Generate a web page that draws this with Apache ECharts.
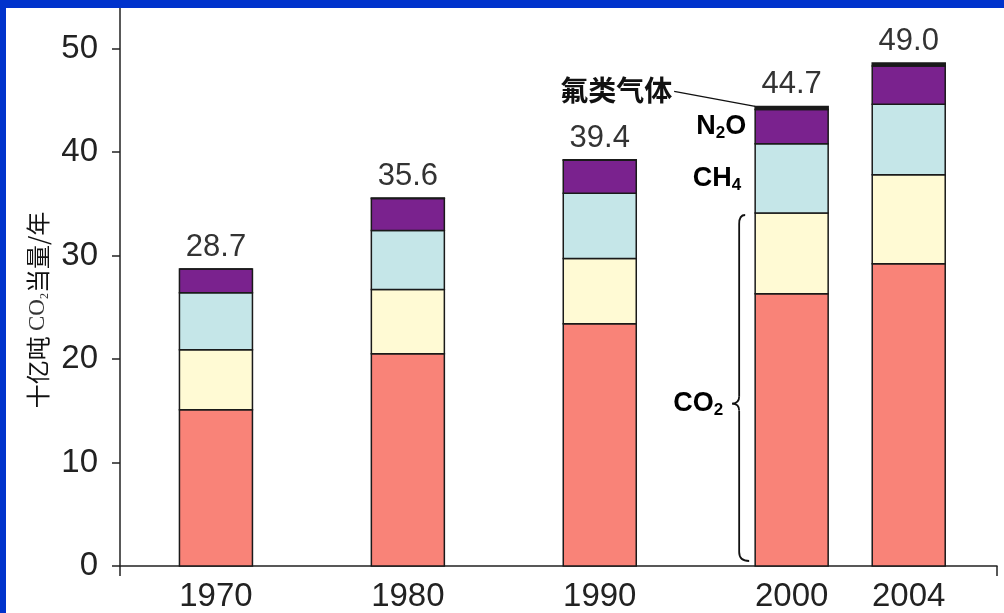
<!DOCTYPE html>
<html><head><meta charset="utf-8">
<script src="https://cdn.jsdelivr.net/npm/echarts@6/dist/echarts.min.js"></script>
<style>html,body{margin:0;padding:0;background:#fff;}#c{width:1004px;height:613px;}</style>
</head><body><div id="c"></div>
<script>
const years = ['1970', '1980', '1990', '2000', '2004'];
const slots = [1, 2, 3, 4, 4.61];
const co2Fossil = [15.1, 20.5, 23.4, 26.3, 29.2];
const co2Other = [5.8, 6.2, 6.3, 7.8, 8.6];
const ch4 = [5.5, 5.7, 6.3, 6.7, 6.8];
const n2o = [2.3, 3.1, 3.2, 3.3, 3.7];
const fgas = [0, 0.05, 0.05, 0.3, 0.3];
const totals = ['28.7', '35.6', '39.4', '44.7', '49.0'];
const yTicks = [0, 10, 20, 30, 40, 50];
const annotIndex = 3;

const FONT = "'Liberation Sans', Arial, Helvetica, sans-serif";
const CJK = "'Noto Sans CJK SC', sans-serif";
const AX = '#222';
const BAR_W = 73;

const layers = [
  { name: 'CO2', vals: co2Fossil, color: '#F98378' },
  { name: 'CO2其他', vals: co2Other, color: '#FFFAD4' },
  { name: 'CH4', vals: ch4, color: '#C5E6E8' },
  { name: 'N2O', vals: n2o, color: '#7A228E' },
  { name: '氟类气体', vals: fgas, color: '#1a1a1a' }
];
// cumulative bottoms/tops per layer
const cum = years.map(() => 0);
const stacked = layers.map(L => L.vals.map((v, i) => { const b = cum[i]; cum[i] += v; return [slots[i], b, cum[i], i]; }));

function mkSeries(L, k) {
  const isTop = k === layers.length - 1;
  return {
    name: L.name, type: 'custom',
    encode: { x: 0, y: [1, 2] },
    data: stacked[k],
    renderItem: function (params, api) {
      const x = api.value(0), y0 = api.value(1), y1 = api.value(2), idx = api.value(3);
      const p0 = api.coord([x, y0]), p1 = api.coord([x, y1]);
      const children = [{
        type: 'rect',
        shape: { x: p0[0] - BAR_W / 2, y: p1[1], width: BAR_W, height: p0[1] - p1[1] },
        style: { fill: L.color, stroke: '#1a1a1a', lineWidth: 1.5 }
      }];
      if (isTop) {
        children.push({
          type: 'text', x: p1[0], y: p1[1] - 6,
          style: { text: totals[idx], align: 'center', verticalAlign: 'bottom', fontSize: 31, fill: '#333', fontFamily: FONT }
        });
      }
      return { type: 'group', children: children };
    }
  };
}

const chart = echarts.init(document.getElementById('c'), null, { renderer: 'canvas' });
chart.setOption({
  animation: false,
  backgroundColor: '#ffffff',
  grid: { left: 120, right: 7, top: 7, bottom: 47 },
  xAxis: {
    type: 'value', min: 0.5, max: 5.07,
    axisLine: { show: true, lineStyle: { color: AX, width: 1.5 } },
    axisTick: { show: true, length: 10, customValues: [0.5, 5.07], lineStyle: { color: AX, width: 1.5 } },
    axisLabel: { customValues: slots, formatter: v => years[slots.indexOf(v)] || '', fontSize: 33, color: AX, fontFamily: FONT, margin: 14 },
    splitLine: { show: false }
  },
  yAxis: {
    type: 'value', min: 0, max: 54,
    axisLine: { show: true, lineStyle: { color: AX, width: 1.5 } },
    axisTick: { show: true, length: 8, customValues: yTicks, lineStyle: { color: AX, width: 1.5 } },
    axisLabel: { customValues: yTicks, fontSize: 33, color: AX, fontFamily: FONT, margin: 22 },
    splitLine: { show: false }
  },
  series: layers.map(mkSeries)
});

// annotations anchored to the 2000 bar via the chart's scales
const i = annotIndex;
const px = v => chart.convertToPixel({ gridIndex: 0 }, [slots[i], v]);
const base = px(0);
const barLeft = base[0] - BAR_W / 2;
const cTop = co2Fossil[i] + co2Other[i];
const chTop = cTop + ch4[i];
const nTop = chTop + n2o[i];
const fTop = nTop + fgas[i];
const yN = px(chTop + n2o[i] / 2)[1];
const yC = px(cTop + ch4[i] / 2)[1];
const yTop = px(fTop)[1];
const braceTop = px(cTop)[1] + 2;
const braceBot = base[1] - 5;
const tip = px(cTop * 0.46)[1];
const bx = barLeft - 16;

const lblRich = {
  m: { fontSize: 27, fontWeight: 'bold', fontFamily: FONT, color: '#111', lineHeight: 30 },
  s: { fontSize: 17, fontWeight: 'bold', fontFamily: FONT, color: '#111', verticalAlign: 'bottom', lineHeight: 17 }
};
const ln = { stroke: '#111', lineWidth: 1.8, fill: null };

chart.setOption({
  graphic: [
    { type: 'rect', z: 100, shape: { x: 0, y: 0, width: 1004, height: 8 }, style: { fill: '#0033CC' } },
    { type: 'rect', z: 100, shape: { x: 0, y: 0, width: 6, height: 613 }, style: { fill: '#0033CC' } },
    { type: 'text', x: 38, y: 310, rotation: Math.PI / 2,
      style: {
        text: '{a|十亿吨 }{b|CO}{c|2}{a|当量/年}', align: 'center', verticalAlign: 'middle',
        rich: {
          a: { fontSize: 24, fontFamily: CJK, fill: '#111', lineHeight: 26 },
          b: { fontSize: 23, fontFamily: "'Liberation Serif', serif", fill: '#333', lineHeight: 26 },
          c: { fontSize: 12, fontFamily: "'Liberation Serif', serif", fill: '#333', verticalAlign: 'bottom', lineHeight: 12 }
        }
      } },
    { type: 'text', x: barLeft - 9, y: yN, style: { text: '{m|N}{s|2}{m|O}', align: 'right', verticalAlign: 'middle', rich: lblRich } },
    { type: 'text', x: barLeft - 14, y: yC, style: { text: '{m|CH}{s|4}', align: 'right', verticalAlign: 'middle', rich: lblRich } },
    { type: 'text', x: bx - 16, y: tip, style: { text: '{m|CO}{s|2}', align: 'right', verticalAlign: 'middle', rich: lblRich } },
    { type: 'text', x: barLeft - 83, y: yTop - 16, style: { text: '氟类气体', align: 'right', verticalAlign: 'middle', fontSize: 28, fontWeight: 'bold', fontFamily: CJK, fill: '#111' } },
    { type: 'line', shape: { x1: barLeft - 81, y1: yTop - 15, x2: barLeft, y2: yTop }, style: { stroke: '#111', lineWidth: 1.5 } },
    { type: 'bezierCurve', shape: { x1: bx + 6, y1: braceTop, cpx1: bx, cpy1: braceTop, x2: bx, y2: braceTop + 9 }, style: ln },
    { type: 'line', shape: { x1: bx, y1: braceTop + 9, x2: bx, y2: tip - 7 }, style: ln },
    { type: 'bezierCurve', shape: { x1: bx, y1: tip - 7, cpx1: bx, cpy1: tip, x2: bx - 7, y2: tip }, style: ln },
    { type: 'bezierCurve', shape: { x1: bx - 7, y1: tip, cpx1: bx, cpy1: tip, x2: bx, y2: tip + 7 }, style: ln },
    { type: 'line', shape: { x1: bx, y1: tip + 7, x2: bx, y2: braceBot - 9 }, style: ln },
    { type: 'bezierCurve', shape: { x1: bx, y1: braceBot - 9, cpx1: bx, cpy1: braceBot, x2: bx + 10, y2: braceBot }, style: ln }
  ]
});
</script></body></html>
